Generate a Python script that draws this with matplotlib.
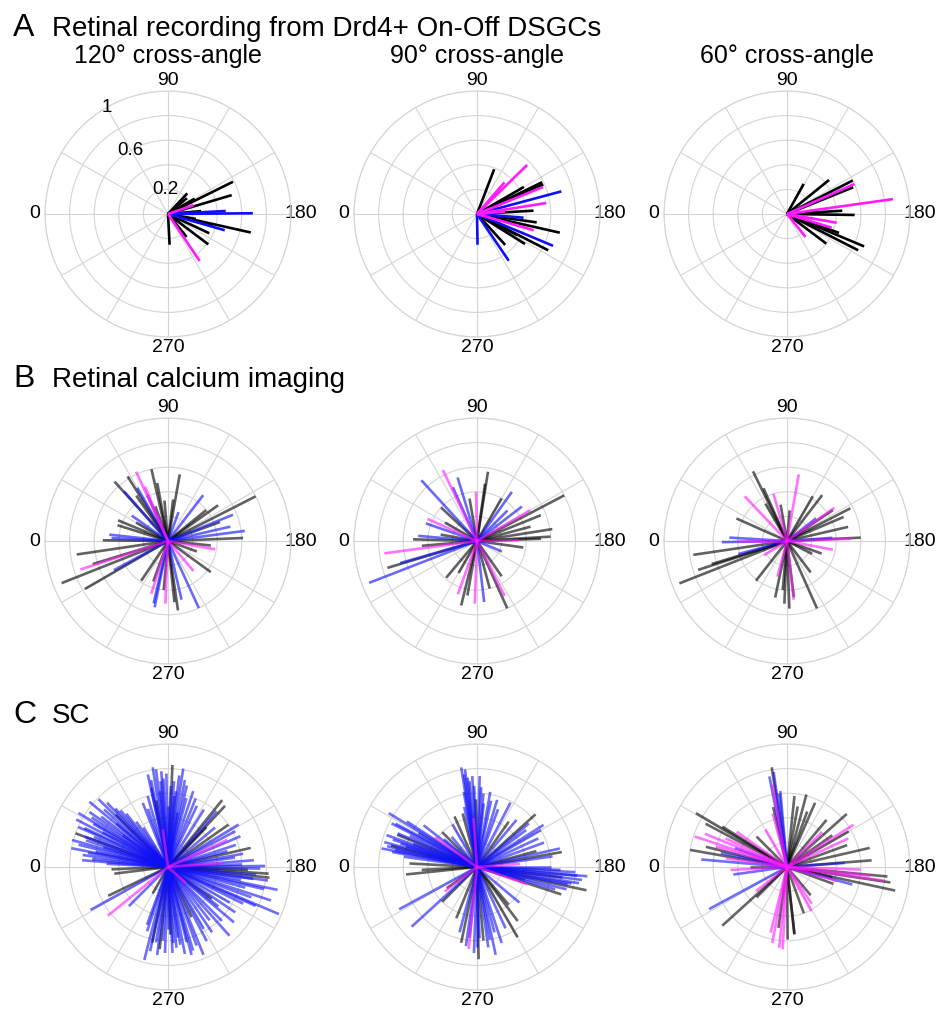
import numpy as np
import matplotlib.pyplot as plt

plt.rcParams['font.family'] = ['Liberation Sans', 'DejaVu Sans']

# --- data: direction (deg) and magnitude of each cell's vector ---
# groups: k = black, b = blue, m = magenta

# A. retinal recording
a120_deg = [153.6, 163.5, 133, 140, 150, 161, 179.5, 177, 175, 192.6, 196, 195,
            205, 217, 236, 231, 267, 190]
a120_mag = [0.59, 0.54, 0.23, 0.20, 0.25, 0.22, 0.69, 0.47, 0.27, 0.69, 0.48, 0.38,
            0.37, 0.41, 0.46, 0.24, 0.25, 0.23]
a120_grp = list("kkkkkmbbkkbkkkmkkk")

a90_deg = [111, 135.6, 131, 150, 154, 156, 157.7, 165, 171, 176.6, 175, 184.5,
           188, 192.7, 196, 202.7, 207, 212, 227.6, 235.8, 269, 207.7]
a90_mag = [0.39, 0.57, 0.34, 0.44, 0.59, 0.59, 0.58, 0.71, 0.57, 0.46, 0.23, 0.38,
           0.49, 0.69, 0.48, 0.67, 0.65, 0.46, 0.34, 0.46, 0.25, 0.37]
a90_grp = list("kmmkkkmbmkmbkkmbkkkbbk")

a60_deg = [119, 141, 153, 156, 158, 172, 176.6, 180.8, 178, 190, 200, 197,
           202.8, 207, 217, 231]
a60_mag = [0.28, 0.44, 0.60, 0.60, 0.58, 0.87, 0.45, 0.55, 0.27, 0.41, 0.45, 0.38,
           0.68, 0.65, 0.40, 0.24]
a60_grp = list("kkkmkmkkkmkmkkkm")

# B. retinal calcium imaging
b120_deg = [65.3, 77, 58, 48, 48.5, 67, 66, 79.5, 100, 97, 85, 22.5, 17.4, 6.2, 3,
            0.6, 351.6, 342, 338.4, 330, 331.7, 343, 304, 287.6, 281.4, 283, 272.4,
            261.8, 257, 245.3, 264, 216, 229.6, 190, 177.7, 172.5, 167, 158, 153,
            127.5, 144.5, 141, 160, 70, 30, 200, 275, 290, 35, 110, 186, 55, 60]
b120_mag = [0.62, 0.60, 0.62, 0.65, 0.54, 0.48, 0.41, 0.48, 0.55, 0.34, 0.33, 0.44,
            0.43, 0.48, 0.46, 0.53, 0.75, 0.75, 0.93, 0.78, 0.50, 0.64, 0.39, 0.45,
            0.55, 0.52, 0.51, 0.57, 0.49, 0.60, 0.50, 0.43, 0.32, 0.39, 0.61, 0.63,
            0.52, 0.57, 0.80, 0.47, 0.50, 0.40, 0.45, 0.30, 0.30, 0.25, 0.40, 0.35,
            0.36, 0.25, 0.35, 0.45, 0.50]
b120_grp = list("mkkkbmbkkkkkkbbkkmkkbkkmbbmkbbkkmmkbbbkbkkkkkkkkbbkkb")

b90_deg = [338.8, 352.4, 343.3, 344, 47.5, 64.3, 73, 65.8, 43, 99, 89, 98, 125.4,
           120, 152.4, 142.5, 158, 171, 176.6, 178, 179, 188, 203, 24, 19, 1.5, 5,
           310, 289.8, 283.8, 272, 263.3, 243.3, 245.8, 235, 150, 10, 300, 280, 255,
           80, 165, 355, 30, 135]
b90_mag = [0.94, 0.76, 0.76, 0.65, 0.67, 0.64, 0.54, 0.48, 0.40, 0.57, 0.40, 0.47,
           0.49, 0.40, 0.80, 0.46, 0.56, 0.62, 0.60, 0.52, 0.34, 0.38, 0.22, 0.44,
           0.44, 0.52, 0.48, 0.39, 0.46, 0.54, 0.51, 0.50, 0.50, 0.60, 0.35, 0.50,
           0.30, 0.30, 0.45, 0.40, 0.35, 0.45, 0.45, 0.30, 0.35]
b90_grp = list("bmkbbmbbkkmkbkkbkkkkmkbmbkbkmkmbmkkmkkkkkkkkb")

b60_deg = [338.5, 351.6, 342, 343, 345, 359, 3.4, 0, 64, 66, 46.6, 74, 100, 24,
           120, 127.5, 152.7, 145, 146, 142, 167, 177.4, 178, 176, 190.7, 207, 233,
           246, 263.5, 263, 272.4, 281.8, 285, 308, 328, 80, 95, 60, 200, 275, 268,
           157]
b60_mag = [0.94, 0.77, 0.76, 0.64, 0.41, 0.53, 0.47, 0.40, 0.63, 0.47, 0.50, 0.40,
           0.55, 0.45, 0.42, 0.47, 0.58, 0.47, 0.45, 0.30, 0.51, 0.60, 0.52, 0.37,
           0.38, 0.23, 0.32, 0.60, 0.48, 0.46, 0.51, 0.47, 0.30, 0.41, 0.22, 0.30,
           0.25, 0.35, 0.30, 0.40, 0.55, 0.50]
b60_grp = list("kkkkbbbmkkmmmkkkkmkbkkmbmkkkmkkkmkmkkkkkkk")

# C. superior colliculus
c120_deg = [81.3, 83, 92.5, 98.8, 77.7, 97, 87, 103, 78, 108.4, 68.5, 95, 84, 115.3,
            90, 100, 86, 94, 80, 82,
            129, 133, 131, 149, 157, 167, 155.4, 145, 152, 134, 122, 140, 162, 172,
            183.8, 186, 179.4, 191.8, 187.7, 175.7, 175.5, 182, 203, 198, 203.9, 195,
            185, 190, 178,
            228.2, 225, 216, 222, 220, 242.4, 232, 210,
            248, 253.3, 259, 264, 262, 284.3, 275.8, 281.8, 279, 245, 268, 266, 272,
            288, 256, 270,
            321, 334.3, 331, 300, 315,
            352.9, 357.6, 4.5,
            11, 15.7, 20, 27.4, 31.1, 35, 39.7, 44.3, 46.5, 25, 8, 58, 40, 22, 17, 30,
            50, 55, 12, 35, 45, 20, 28, 6,
            85, 89, 92, 96, 101, 105, 79, 74, 71, 112,
            14, 18, 24, 33, 37, 42, 48, 52, 10, 3,
            181, 188, 193, 200, 206, 170, 165,
            250, 255, 261, 267, 274, 277, 282, 290, 240, 236,
            214, 218]
c120_mag = [0.82, 0.80, 0.83, 0.81, 0.77, 0.75, 0.72, 0.68, 0.66, 0.65, 0.56, 0.58,
            0.62, 0.55, 0.50, 0.45, 0.78, 0.70, 0.55, 0.31,
            0.70, 0.68, 0.60, 0.67, 0.64, 0.69, 0.53, 0.60, 0.62, 0.45, 0.55, 0.50,
            0.58, 0.55,
            0.82, 0.83, 0.79, 0.91, 0.82, 0.44, 0.70, 0.65, 0.98, 0.88, 0.78, 0.65,
            0.72, 0.60, 0.60,
            0.75, 0.62, 0.44, 0.20, 0.70, 0.68, 0.55, 0.58,
            0.77, 0.71, 0.72, 0.66, 0.58, 0.78, 0.67, 0.63, 0.62, 0.45, 0.55, 0.62,
            0.70, 0.55, 0.63, 0.50,
            0.63, 0.54, 0.72, 0.25, 0.45,
            0.44, 0.46, 0.70,
            0.80, 0.81, 0.80, 0.84, 0.85, 0.78, 0.83, 0.79, 0.72, 0.75, 0.70, 0.38,
            0.55, 0.65, 0.55, 0.70, 0.60, 0.45, 0.60, 0.45, 0.60, 0.72, 0.60, 0.62,
            0.70, 0.76, 0.66, 0.62, 0.72, 0.58, 0.72, 0.60, 0.50, 0.60,
            0.75, 0.70, 0.80, 0.74, 0.68, 0.70, 0.64, 0.55, 0.66, 0.50,
            0.75, 0.70, 0.80, 0.72, 0.68, 0.62, 0.50,
            0.68, 0.74, 0.64, 0.70, 0.60, 0.72, 0.70, 0.50, 0.58, 0.64,
            0.66, 0.52]
c120_grp = list("bbkbbbbbbbbbbbbbbbkm" + "kkbbbkmkbkbbbb" + "kkbbbmbkbbbbbbb"
                + "bbkmbbbb" + "bbbbbbkkbkkbbbbb" + "mkbkb" + "kkb"
                + "bbkbbbbbbbbbbbbbbbbbkbbb" + "b" * 39)

c90_deg = [81, 83, 84, 87, 91.7, 78, 96, 106.7, 117.5, 110, 86, 100, 93, 89, 75,
           138, 147.7, 155, 167.4, 170, 172, 176, 165, 130, 125, 140, 160,
           184.8, 189, 192, 185, 190, 199, 182, 195, 187, 194, 198,
           240, 233, 258, 252, 230, 245, 220,
           275.8, 269, 272, 281.8, 262, 265, 278, 285, 268, 292,
           331.5, 317.6, 322.8, 315, 325,
           354, 357, 3,
           11, 15, 19.4, 31.4, 28, 22, 17, 25, 35, 45, 40, 8, 14, 30, 50, 12, 20,
           60, 66,
           82, 85, 88, 95, 102, 80,
           13, 18, 23, 27, 33, 38, 10, 16,
           183, 187, 191, 196, 180,
           260, 270, 276, 255,
           150, 143]
c90_mag = [0.82, 0.80, 0.73, 0.74, 0.74, 0.50, 0.52, 0.57, 0.59, 0.50, 0.40, 0.62,
           0.65, 0.55, 0.45,
           0.64, 0.64, 0.55, 0.69, 0.70, 0.62, 0.35, 0.50, 0.50, 0.45, 0.55, 0.58,
           0.90, 0.84, 0.91, 0.82, 0.78, 0.43, 0.68, 0.40, 0.70, 0.75, 0.72,
           0.66, 0.55, 0.73, 0.65, 0.40, 0.55, 0.45,
           0.67, 0.75, 0.70, 0.63, 0.66, 0.60, 0.65, 0.55, 0.58, 0.45,
           0.72, 0.72, 0.33, 0.40, 0.30,
           0.58, 0.45, 0.55,
           0.79, 0.78, 0.78, 0.84, 0.75, 0.70, 0.65, 0.60, 0.42, 0.40, 0.35, 0.60,
           0.72, 0.55, 0.32, 0.68, 0.55, 0.40, 0.45,
           0.76, 0.70, 0.66, 0.60, 0.55, 0.62,
           0.75, 0.72, 0.70, 0.78, 0.68, 0.55, 0.70, 0.60,
           0.80, 0.86, 0.75, 0.66, 0.60,
           0.60, 0.65, 0.58, 0.55,
           0.60, 0.50]
c90_grp = list("bbbbbbbbbbmbbkk" + "kbbbkbmkbkbb" + "bbkbbmbbkbk" + "kkbbkbb"
               + "mkbkbkbbbk" + "bbmkk" + "kkk" + "bbbbbkbbmkbbkbbbbbk" + "b" * 25)

c60_deg = [81.3, 79, 82, 84, 77, 75, 96, 105, 113.6, 100, 110, 85, 80,
           138.4, 147.6, 150, 167, 175.5, 176, 135, 145, 160, 130, 155,
           185.4, 192.3, 188.5, 188, 186, 195, 195.5, 193, 182, 200,
           241, 236, 263.7, 230, 250,
           281, 275.5, 273, 269.5, 263.7, 284, 278,
           331.6, 317.8, 322, 315,
           352, 357, 0,
           10, 18.3, 30.6, 28, 5, 16, 25, 14, 22, 32, 12, 45, 60, 20, 8, 35]
c60_mag = [0.82, 0.75, 0.78, 0.60, 0.50, 0.45, 0.58, 0.61, 0.57, 0.50, 0.48, 0.62,
           0.68,
           0.65, 0.64, 0.58, 0.69, 0.69, 0.47, 0.40, 0.45, 0.52, 0.50, 0.55,
           0.82, 0.90, 0.85, 0.80, 0.68, 0.55, 0.42, 0.38, 0.60, 0.40,
           0.41, 0.36, 0.55, 0.30, 0.40,
           0.63, 0.66, 0.67, 0.59, 0.55, 0.55, 0.50,
           0.72, 0.71, 0.32, 0.35,
           0.44, 0.46, 0.30,
           0.80, 0.79, 0.86, 0.75, 0.70, 0.60, 0.55, 0.68, 0.72, 0.62, 0.55, 0.35,
           0.35, 0.45, 0.50, 0.50]
c60_grp = list("kbbbkmkkkkkbm" + "kmkkkbmkkkm" + "kkkmmbmkmk" + "mmkkk"
               + "mmmkkmk" + "bkmk" + "bmk" + "kmkkbmmkmkbkmbmm")

col_titles = ["120° cross-angle", "90° cross-angle", "60° cross-angle"]
row_titles = [("A", "Retinal recording from Drd4+ On-Off DSGCs"),
              ("B", "Retinal calcium imaging"),
              ("C", "SC")]
panels = [[(a120_deg, a120_mag, a120_grp), (a90_deg, a90_mag, a90_grp), (a60_deg, a60_mag, a60_grp)],
          [(b120_deg, b120_mag, b120_grp), (b90_deg, b90_mag, b90_grp), (b60_deg, b60_mag, b60_grp)],
          [(c120_deg, c120_mag, c120_grp), (c90_deg, c90_mag, c90_grp), (c60_deg, c60_mag, c60_grp)]]

colors = {"k": "#000000", "b": "#0f0ff5", "m": "#ff1aff"}
row_alpha = [1.0, 0.62, 0.6]

W, H = 946, 1010
fig = plt.figure(figsize=(W / 100, H / 100), dpi=100)

col_cx = [168, 477, 787]
row_cy = [214, 541, 867]
R = 123
grid_col = "#d4d4d4"

for i, cy in enumerate(row_cy):
    for j, cx in enumerate(col_cx):
        ax = fig.add_axes([(cx - R) / W, (H - cy - R) / H, 2 * R / W, 2 * R / H],
                          projection="polar")
        ax.set_theta_zero_location("W")
        ax.set_theta_direction(-1)
        ax.set_ylim(0, 1)
        deg, mag, grp = panels[i][j]
        deg = np.asarray(deg)
        mag = np.asarray(mag)
        grp = np.asarray(grp)
        for g in ["k", "b", "m"]:
            sel = grp == g
            for t, r in zip(np.deg2rad(deg[sel]), mag[sel]):
                ax.plot([t, t], [0, r], color=colors[g], lw=1.9,
                        alpha=row_alpha[i], solid_capstyle="butt")
        ticks = np.arange(0, 360, 30)
        labels = [str(t) if t % 90 == 0 else "" for t in ticks]
        ax.set_thetagrids(ticks, labels, fontsize=14)
        ax.tick_params(axis="x", pad=-3.2)
        ax.set_rticks([0.2, 0.4, 0.6, 0.8, 1.0])
        ax.set_yticklabels([])
        ax.grid(True, color=grid_col, lw=0.8)
        ax.spines["polar"].set_color(grid_col)
        ax.spines["polar"].set_linewidth(0.8)
        if i == 0 and j == 0:
            for lab, th, rr in [("1", 60, 1.0), ("0.6", 59, 0.6), ("0.2", 83, 0.2)]:
                ax.text(np.deg2rad(th), rr, lab, ha="center", va="center", fontsize=13.5)
        if i == 0:
            fig.text(cx / W, 1 - 63 / H, col_titles[j], ha="center", va="baseline",
                     fontsize=18)

for (letter, title), base in zip(row_titles, [36, 387, 723]):
    fig.text(13 / W, 1 - base / H, letter, ha="left", va="baseline", fontsize=23)
    fig.text(52 / W, 1 - base / H, title, ha="left", va="baseline", fontsize=20)

fig.savefig("out.png", dpi=100, facecolor="white")
